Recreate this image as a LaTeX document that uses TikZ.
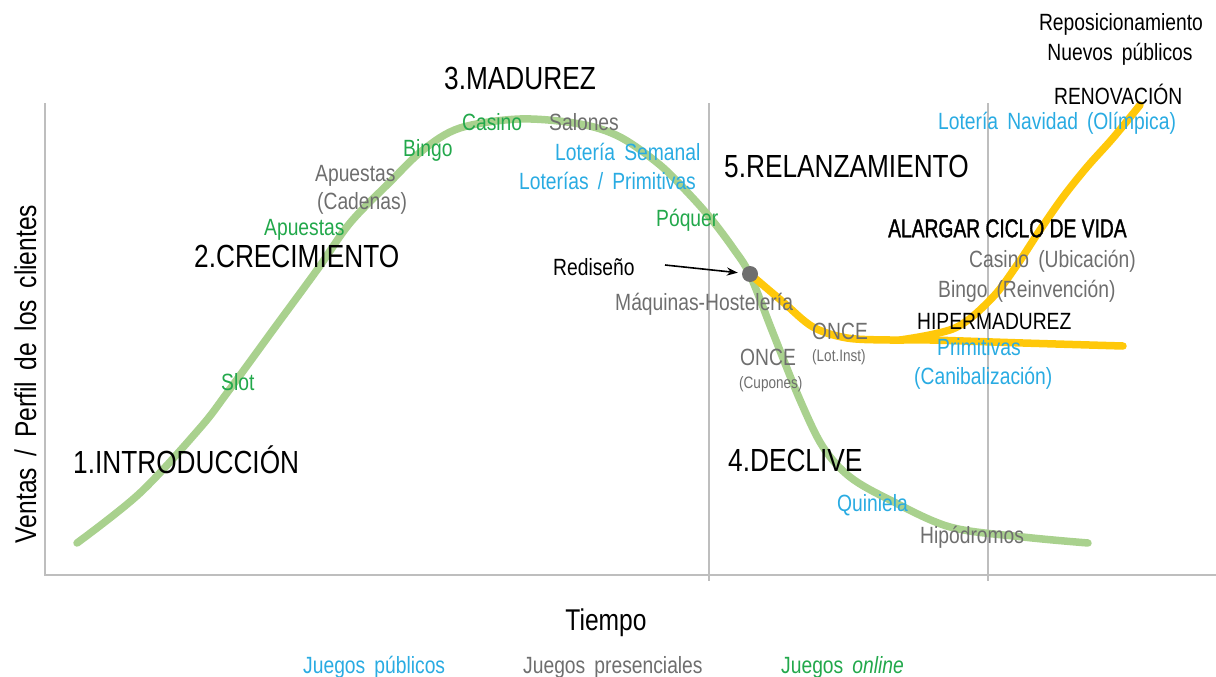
\documentclass[tikz,border=0pt]{standalone}
\usepackage{fontspec}
\setmainfont[FakeStretch=0.82,WordSpace=1.7]{Liberation Sans}
\newfontfamily\tightfont[FakeStretch=0.74,FakeBold=1.2]{Liberation Sans}
\usetikzlibrary{arrows.meta}
\definecolor{gtext}{RGB}{34,168,75}
\definecolor{btext}{RGB}{41,171,226}
\definecolor{ktext}{RGB}{110,110,110}
\definecolor{gcurve}{RGB}{169,209,142}
\definecolor{ycurve}{RGB}{255,200,10}
\definecolor{axisgrey}{RGB}{190,190,190}
\tikzset{
  txt/.style={inner sep=0pt, anchor=base west},
  lab/.style={txt, yshift=-8.4pt, font=\fontsize{23.5}{28}\selectfont},
  stage/.style={txt, yshift=-11.5pt, font=\fontsize{32}{38}\selectfont},
  smalllab/.style={txt, yshift=-5.9pt, font=\fontsize{16.5}{20}\selectfont},
  gl/.style={lab, text=gtext},
  bl/.style={lab, text=btext},
  kl/.style={lab, text=ktext},
  axisline/.style={draw=axisgrey, line width=2.4pt},
  divider/.style={draw=axisgrey, line width=2pt},
  greencurve/.style={draw=gcurve, line width=7.5pt, line cap=round, line join=round},
  yellowcurve/.style={draw=ycurve, line width=7.5pt, line cap=round, line join=round},
}
\begin{document}
\begin{tikzpicture}[x=1pt,y=-1pt]
\useasboundingbox (0,0) rectangle (1216,677);
% axes
\draw[axisline] (45,103) -- (45,575) -- (1216,575);
\draw[divider] (709,103) -- (709,581);
\draw[divider] (988,103) -- (988,581);
% green curve
\draw[greencurve] plot[smooth, tension=0.55] coordinates {
 (77,543) (140,493) (200,428) (227,393) (273,330) (317,270) (350,223) (390,182)
 (423,150) (460,128) (520,119) (580,124) (620,137) (660,165) (690,195) (712,220)
 (733,248) (750,275) (773,333) (800,400) (823,447) (850,477) (890,500) (950,527)
 (1023,537) (1088,543)};
% yellow curves
\draw[yellowcurve] plot[smooth, tension=0.55] coordinates {
 (750,274) (783,302) (813,327) (847,338) (890,340) (930,340) (1023,343) (1123,346)};
\draw[yellowcurve] plot[smooth, tension=0.55] coordinates {
 (900,340) (955,328) (992,298) (1017,265) (1040,230) (1063,197) (1087,167) (1113,138) (1140,105)};
% dot and arrow
\node[circle, fill=ktext, minimum size=16pt, inner sep=0pt] (dot) at (750,274) {};
\coordinate (arrstart) at (665,265);
\draw[line width=1.6pt, -{Stealth[length=11pt,width=8pt]}, shorten >=4pt] (arrstart) -- (dot);
\node[lab] (rediseno) at (553,267) {Rediseño};
% stage labels
\node[stage] (s1) at (73,462) {1.INTRODUCCIÓN};
\node[stage] (s2) at (194,256) {2.CRECIMIENTO};
\node[stage] (s3) at (444,78) {3.MADUREZ};
\node[stage] (s4) at (728,460) {4.DECLIVE};
\node[stage] (s5) at (724,166) {5.RELANZAMIENTO};
% growth labels
\node[gl] (slot) at (221,382) {Slot};
\node[gl] (apuestas) at (264,227) {Apuestas};
\node[kl] (apuestasc) at (315,173) {Apuestas};
\node[kl] (cadenas) at (317,201) {(Cadenas)};
\node[gl] (bingo) at (403,148) {Bingo};
% maturity labels
\node[gl] (casino) at (462,122) {Casino};
\node[kl] (salones) at (549,122) {Salones};
\node[bl] (lotsem) at (555,152) {Lotería Semanal};
\node[bl] (lotprim) at (519,181) {Loterías / Primitivas};
\node[gl] (poquer) at (656,218) {Póquer};
\node[kl] (maquinas) at (615,302) {Máquinas-Hostelería};
% decline labels
\node[kl] (once1) at (740,357) {ONCE};
\node[smalllab, text=ktext] (cupones) at (739,383) {(Cupones)};
\node[kl] (once2) at (812,331) {ONCE};
\node[smalllab, text=ktext] (lotinst) at (812,356) {(Lot.Inst)};
\node[bl] (quiniela) at (837,503) {Quiniela};
\node[kl] (hipodromos) at (920,535) {Hipódromos};
% relaunch labels
\node[txt, yshift=-9.3pt, font=\tightfont\fontsize{26}{30}\selectfont] (alargar) at (888,228) {ALARGAR CICLO DE VIDA};
\node[kl] (casinou) at (969,259) {Casino (Ubicación)};
\node[kl] (bingor) at (938,289) {Bingo (Reinvención)};
\node[lab] (hiper) at (917,321) {HIPERMADUREZ};
\node[bl] (primit) at (937,347) {Primitivas};
\node[bl] (canib) at (914,376) {(Canibalización)};
% renewal labels
\node[lab, anchor=base] (repos) at (1121,22) {Reposicionamiento};
\node[lab, anchor=base] (nuevos) at (1120,52) {Nuevos públicos};
\node[lab] (renov) at (1054,96) {RENOVACIÓN};
\node[bl] (lotnav) at (938,121) {Lotería Navidad (Olímpica)};
% axis titles
\node[txt, anchor=base, yshift=-10.7pt, font=\fontsize{30}{36}\selectfont] (tiempo) at (606,620) {Tiempo};
\node[txt, anchor=base, rotate=90, font=\fontsize{30}{36}\selectfont] (ventas) at (36,374) {Ventas / Perfil de los clientes};
% legend
\node[bl] (leg1) at (303,665) {Juegos públicos};
\node[kl] (leg2) at (523,665) {Juegos presenciales};
\node[gl] (leg3) at (781,665) {Juegos \textit{online}};
\end{tikzpicture}
\end{document}
